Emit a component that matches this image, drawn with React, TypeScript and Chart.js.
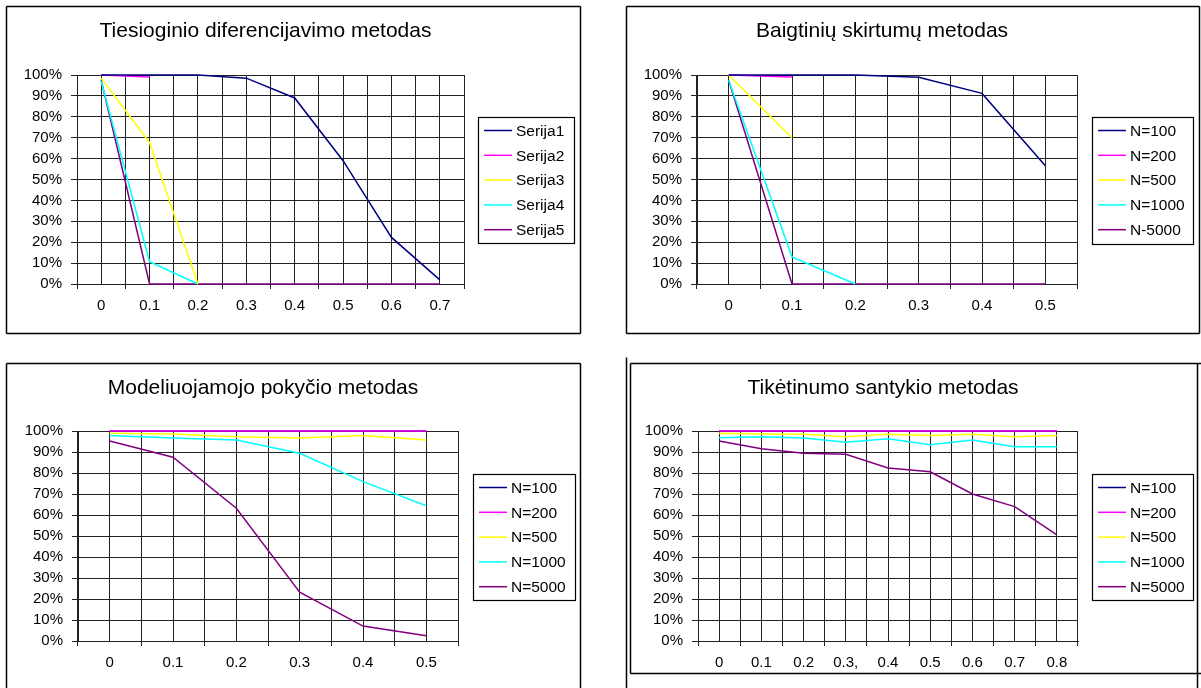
import { useEffect, useRef } from 'react';
import { Chart, registerables } from 'chart.js';

Chart.register(...registerables);

const FONT = '"Liberation Sans", Arial, Helvetica, sans-serif';
const GRID = '#222222';

const seriesColors = ['#000080', '#FF00FF', '#FFFF00', '#00FFFF', '#800080'];
const yTickLabels = ['0%', '10%', '20%', '30%', '40%', '50%', '60%', '70%', '80%', '90%', '100%'];

// Chart 1 – Tiesioginio diferencijavimo metodas
const tiesTitle = 'Tiesioginio diferencijavimo metodas';
const tiesCategories = ['0', '0.1', '0.2', '0.3', '0.4', '0.5', '0.6', '0.7'];
const tiesNames = ['Serija1', 'Serija2', 'Serija3', 'Serija4', 'Serija5'];
const tiesSerija1 = [1, 1, 1, 0.985, 0.89, 0.59, 0.223, 0.02];
const tiesSerija2 = [1, 0.99, null, null, null, null, null, null];
const tiesSerija3 = [0.985, 0.676, 0, null, null, null, null, null];
const tiesSerija4 = [0.97, 0.107, 0, null, null, null, null, null];
const tiesSerija5 = [0.975, 0, 0, 0, 0, 0, 0, 0];

// Chart 2 – Baigtinių skirtumų metodas
const baigTitle = 'Baigtinių skirtumų metodas';
const baigCategories = ['0', '0.1', '0.2', '0.3', '0.4', '0.5'];
const baigNames = ['N=100', 'N=200', 'N=500', 'N=1000', 'N-5000'];
const baigN100 = [1, 1, 1, 0.989, 0.912, 0.566];
const baigN200 = [1, 0.99, null, null, null, null];
const baigN500 = [1, 0.7, null, null, null, null];
const baigN1000 = [0.975, 0.13, 0, null, null, null];
const baigN5000 = [0.975, 0, 0, 0, 0, 0];

// Chart 3 – Modeliuojamojo pokyčio metodas
const modTitle = 'Modeliuojamojo pokyčio metodas';
const modCategories = ['0', '0.1', '0.2', '0.3', '0.4', '0.5'];
const modNames = ['N=100', 'N=200', 'N=500', 'N=1000', 'N=5000'];
const modN100 = [1, 1, 1, 1, 1, 1];
const modN200 = [1, 1, 1, 1, 1, 1];
const modN500 = [0.989, 0.986, 0.973, 0.967, 0.978, 0.957];
const modN1000 = [0.978, 0.967, 0.957, 0.894, 0.759, 0.644];
const modN5000 = [0.952, 0.875, 0.632, 0.232, 0.071, 0.025];

// Chart 4 – Tikėtinumo santykio metodas
const tikTitle = 'Tikėtinumo santykio metodas';
const tikCategories = ['0', '0.1', '0.2', '0.3,', '0.4', '0.5', '0.6', '0.7', '0.8'];
const tikNames = ['N=100', 'N=200', 'N=500', 'N=1000', 'N=5000'];
const tikN100 = [1, 1, 1, 1, 1, 1, 1, 1, 1];
const tikN200 = [1, 1, 1, 1, 1, 1, 1, 1, 1];
const tikN500 = [0.989, 0.986, 0.984, 0.973, 0.984, 0.979, 0.984, 0.973, 0.978];
const tikN1000 = [0.968, 0.973, 0.967, 0.946, 0.963, 0.935, 0.957, 0.925, 0.925];
const tikN5000 = [0.952, 0.916, 0.894, 0.889, 0.824, 0.806, 0.7, 0.64, 0.505];

type Cfg = {
  left: number;
  top: number;
  width: number;
  height: number;
  area: { left: number; right: number; top: number; bottom: number };
  labels: string[];
  series: (number | null)[][];
  names: string[];
  title: string;
  titleY: number;
  firstOnTop: boolean;
  legend: { x: number; y: number; w: number; h: number };
  lines: number[][];
};

const configs: Cfg[] = [
  {
    left: 0, top: 0, width: 600, height: 340,
    area: { left: 77, right: 464, top: 75, bottom: 284 },
    labels: tiesCategories,
    series: [tiesSerija1, tiesSerija2, tiesSerija3, tiesSerija4, tiesSerija5],
    names: tiesNames, title: tiesTitle, titleY: 37, firstOnTop: true,
    legend: { x: 478, y: 117, w: 96, h: 126 },
    lines: [[6, 6, 580, 6], [580, 6, 580, 333], [580, 333, 6, 333], [6, 333, 6, 6]],
  },
  {
    left: 600, top: 0, width: 601, height: 340,
    area: { left: 97, right: 477, top: 75, bottom: 284 },
    labels: baigCategories,
    series: [baigN100, baigN200, baigN500, baigN1000, baigN5000],
    names: baigNames, title: baigTitle, titleY: 37, firstOnTop: true,
    legend: { x: 492, y: 117, w: 101, h: 127 },
    lines: [[26, 6, 599, 6], [599, 6, 599, 333], [599, 333, 26, 333], [26, 333, 26, 6]],
  },
  {
    left: 0, top: 340, width: 600, height: 348,
    area: { left: 78, right: 458, top: 91, bottom: 301 },
    labels: modCategories,
    series: [modN100, modN200, modN500, modN1000, modN5000],
    names: modNames, title: modTitle, titleY: 54, firstOnTop: false,
    legend: { x: 473, y: 134, w: 102, h: 126 },
    lines: [[6, 23, 580, 23], [580, 23, 580, 348], [6, 23, 6, 348]],
  },
  {
    left: 600, top: 340, width: 601, height: 348,
    area: { left: 98, right: 478, top: 91, bottom: 301 },
    labels: tikCategories,
    series: [tikN100, tikN200, tikN500, tikN1000, tikN5000],
    names: tikNames, title: tikTitle, titleY: 54, firstOnTop: false,
    legend: { x: 492, y: 134, w: 101, h: 126 },
    lines: [[30, 23, 601, 23], [597, 23, 597, 348], [30, 333, 601, 333], [30, 23, 30, 333], [26, 17, 26, 348]],
  },
];

function MethodChart({ cfg }: { cfg: Cfg }) {
  const ref = useRef<HTMLCanvasElement | null>(null);

  useEffect(() => {
    const canvas = ref.current;
    if (!canvas) return;
    const yW = 70;
    const xH = 30;

    const decor = {
      id: 'decor',
      afterDraw(chart: any) {
        const ctx = chart.ctx as CanvasRenderingContext2D;
        const a = chart.chartArea;
        ctx.save();
        ctx.strokeStyle = '#000';
        ctx.lineWidth = 1.5;
        for (const [x1, y1, x2, y2] of cfg.lines) {
          ctx.beginPath();
          ctx.moveTo(x1 + 0.5, y1 + 0.5);
          ctx.lineTo(x2 + 0.5, y2 + 0.5);
          ctx.stroke();
        }
        ctx.fillStyle = '#000';
        ctx.font = `21px ${FONT}`;
        ctx.textAlign = 'center';
        ctx.textBaseline = 'alphabetic';
        ctx.fillText(cfg.title, (a.left + a.right) / 2 - 5, cfg.titleY);

        const L = cfg.legend;
        ctx.strokeStyle = '#000';
        ctx.lineWidth = 1.2;
        ctx.strokeRect(L.x + 0.5, L.y + 0.5, L.w, L.h);
        ctx.font = `15.5px ${FONT}`;
        ctx.textAlign = 'left';
        ctx.textBaseline = 'middle';
        chart.data.datasets.forEach((ds: any, i: number) => {
          const y = L.y + 13.5 + 24.8 * i;
          ctx.strokeStyle = ds.borderColor;
          ctx.lineWidth = 1.5;
          ctx.beginPath();
          ctx.moveTo(L.x + 6, y);
          ctx.lineTo(L.x + 34, y);
          ctx.stroke();
          ctx.fillStyle = '#000';
          ctx.fillText(ds.label, L.x + 38, y + 1);
        });
        ctx.restore();
      },
    };

    const n = cfg.series.length;
    const chart = new Chart(canvas, {
      type: 'line',
      data: {
        labels: cfg.labels,
        datasets: cfg.series.map((d, i) => ({
          label: cfg.names[i],
          data: d,
          borderColor: seriesColors[i],
          backgroundColor: seriesColors[i],
          borderWidth: 1.5,
          pointRadius: 0,
          fill: false,
          tension: 0,
          spanGaps: false,
          clip: false,
          order: cfg.firstOnTop ? i : n - 1 - i,
        })),
      },
      options: {
        animation: false,
        responsive: false,
        devicePixelRatio: 1,
        events: [],
        layout: {
          padding: {
            left: cfg.area.left - yW,
            top: cfg.area.top,
            right: cfg.width - cfg.area.right,
            bottom: cfg.height - cfg.area.bottom - xH,
          },
        },
        plugins: {
          legend: { display: false },
          title: { display: false },
          tooltip: { enabled: false },
        },
        scales: {
          x: {
            type: 'category',
            position: 'bottom',
            offset: true,
            grid: { offset: true, color: GRID, lineWidth: 1, tickLength: 5, drawTicks: true },
            border: { color: GRID, width: 1 },
            ticks: {
              color: '#000',
              font: { family: FONT, size: 15 },
              padding: 8,
              maxRotation: 0,
              autoSkip: false,
            },
            afterFit: (s: any) => {
              s.height = xH;
            },
          },
          x2: {
            type: 'category',
            position: 'bottom',
            offset: true,
            grid: { offset: false, color: GRID, lineWidth: 1, drawTicks: false },
            border: { display: false },
            ticks: { display: false },
            afterFit: (s: any) => {
              s.height = 0;
            },
          },
          y: {
            type: 'linear',
            min: 0,
            max: 1,
            grid: { color: GRID, lineWidth: 1, tickLength: 6 },
            border: { color: GRID, width: 1 },
            ticks: {
              stepSize: 0.1,
              autoSkip: false,
              color: '#000',
              font: { family: FONT, size: 15 },
              padding: 9,
              callback: (_v: any, i: number) => yTickLabels[i],
            },
            afterFit: (s: any) => {
              s.width = yW;
            },
          },
        },
      } as any,
      plugins: [decor],
    });
    return () => chart.destroy();
  }, [cfg]);

  return (
    <canvas
      ref={ref}
      width={cfg.width}
      height={cfg.height}
      style={{ position: 'absolute', left: cfg.left, top: cfg.top, width: cfg.width, height: cfg.height }}
    />
  );
}

export default function App() {
  return (
    <div style={{ position: 'absolute', left: 0, top: 0, width: 1201, height: 688, background: '#fff', overflow: 'hidden' }}>
      {configs.map((c, i) => (
        <MethodChart key={i} cfg={c} />
      ))}
    </div>
  );
}
